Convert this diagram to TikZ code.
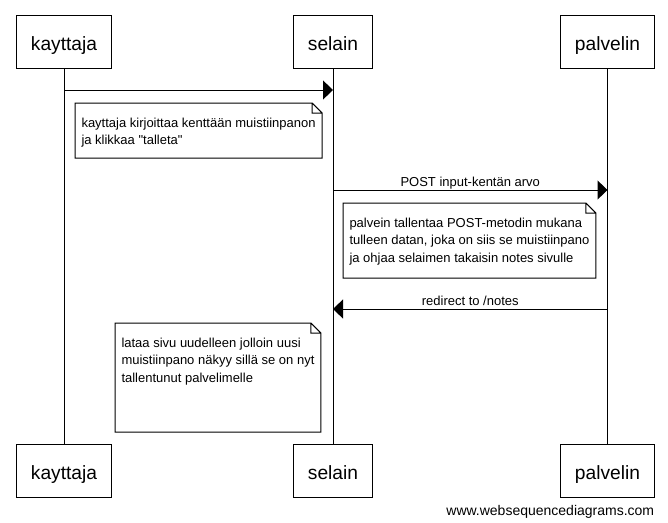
\documentclass[tikz,border=0pt]{standalone}
\usepackage{fontspec}
\setmainfont{Liberation Sans}[Ligatures=TeXOff]
\usetikzlibrary{arrows.meta}

\newcommand{\foldnote}[1]{%
  \draw (#1.north west) -- ([xshift=-10pt]#1.north east) -- ([yshift=-10pt]#1.north east)
    -- (#1.south east) -- (#1.south west) -- cycle
    ([xshift=-10pt]#1.north east) |- ([yshift=-10pt]#1.north east);}

\tikzset{
  actor/.style={draw, inner xsep=14.5pt, minimum height=53pt, text height=17.5pt, text depth=0pt,
    font=\fontsize{19.2}{23}\selectfont},
  note/.style={anchor=north west, inner xsep=6pt, inner ysep=0pt, text height=23.5pt, text depth=#1,
    font=\fontsize{13}{17.5}\selectfont},
  msg/.style={-{Triangle[length=10pt,width=19pt]}},
  lbl/.style={midway, anchor=base, yshift=4pt, font=\fontsize{13}{17.5}\selectfont},
}

\begin{document}
\begin{tikzpicture}[x=1pt, y=-1pt, line width=1pt]
\useasboundingbox[fill=white] (0,0) rectangle (668,522);

\node[actor] (kt) at (64,41.5) {kayttaja};
\node[actor] (st) at (333,41.5) {selain};
\node[actor] (pt) at (607.5,41.5) {palvelin};
\node[actor] (kb) at (64,470.5) {kayttaja};
\node[actor] (sb) at (333,470.5) {selain};
\node[actor] (pb) at (607.5,470.5) {palvelin};

\draw (kt) -- (kb);
\draw (st) -- (sb);
\draw (pt) -- (pb);

\coordinate (m1) at (0,90);
\coordinate (m2) at (0,190);
\coordinate (m3) at (0,309);

\draw[msg] (kt |- m1) -- (st |- m1);
\node[note=30.5pt] (n1) at (75,103) {\begin{tabular}[t]{@{}l@{}}kayttaja kirjoittaa kenttään muistiinpanon\\ja klikkaa "talleta"\end{tabular}};
\foldnote{n1}

\draw[msg] (st |- m2) -- node[lbl] {POST input-kentän arvo} (pt |- m2);
\node[note=50.5pt] (n2) at (343,203) {\begin{tabular}[t]{@{}l@{}}palvein tallentaa POST-metodin mukana\\tulleen datan, joka on siis se muistiinpano\\ja ohjaa selaimen takaisin notes sivulle\end{tabular}};
\foldnote{n2}

\draw[msg] (pt |- m3) -- node[lbl] {redirect to /notes} (st |- m3);
\node[note=84.5pt] (n3) at (115,323) {\begin{tabular}[t]{@{}l@{}}lataa sivu uudelleen jolloin uusi\\muistiinpano näkyy sillä se on nyt\\tallentunut palvelimelle\end{tabular}};
\foldnote{n3}

\node[anchor=base east, font=\fontsize{14}{17}\selectfont] (wm) at (658,515) {www.websequencediagrams.com};
\end{tikzpicture}
\end{document}
